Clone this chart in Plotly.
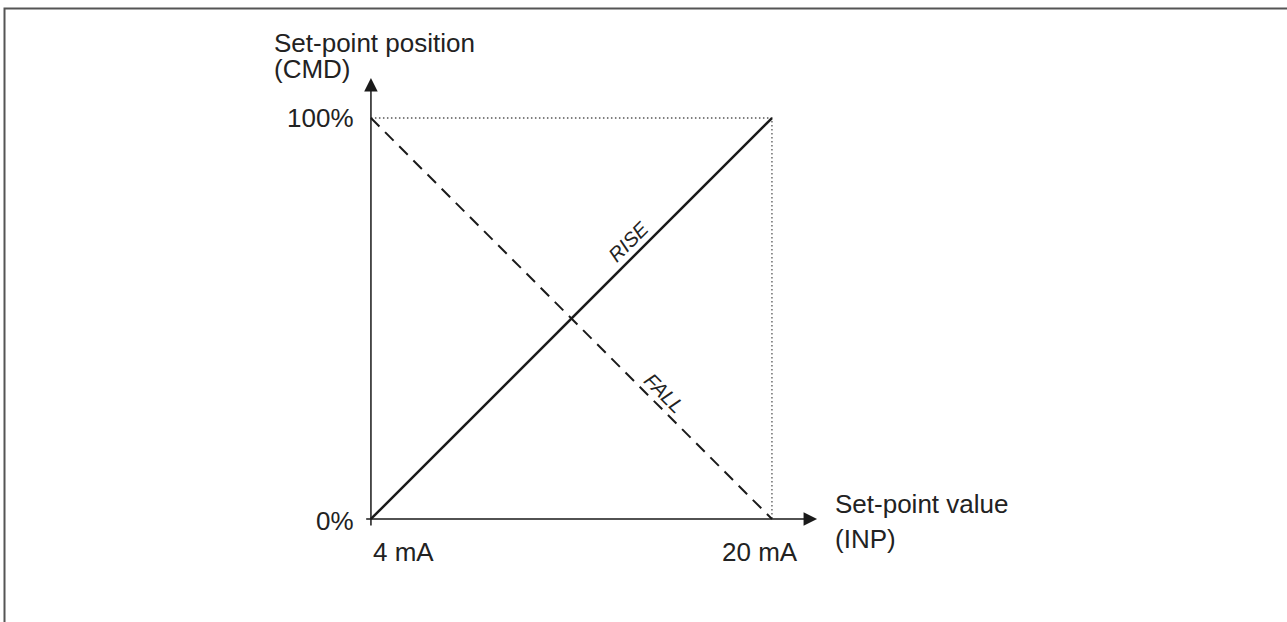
import plotly.graph_objects as go

# ── Data ──────────────────────────────────────────────────────────
inp_ma = [4, 20]            # set-point value (INP), mA
rise_pct = [0, 100]         # RISE characteristic, % of CMD
fall_pct = [100, 0]         # FALL characteristic, % of CMD
x_tick_vals = [4, 20]
x_tick_text = ["4 mA", "20 mA"]
y_tick_vals = [0, 100]
y_tick_text = ["0%", "100%"]

FONT = "Liberation Sans, Arial, Helvetica, sans-serif"
INK = "#222222"

fig = go.Figure()

# Dotted guides to the 20 mA / 100% corner
fig.add_trace(go.Scatter(
    x=[inp_ma[0], inp_ma[1], inp_ma[1]],
    y=[y_tick_vals[1], y_tick_vals[1], y_tick_vals[0]],
    mode="lines",
    line=dict(color="#555555", width=1.3, dash="1.5px,2.5px"),
    hoverinfo="skip", showlegend=False,
))

# RISE (solid) and FALL (dashed)
fig.add_trace(go.Scatter(
    x=inp_ma, y=rise_pct, mode="lines",
    line=dict(color="#1a1a1a", width=2.5),
    hoverinfo="skip", showlegend=False,
))
fig.add_trace(go.Scatter(
    x=inp_ma, y=fall_pct, mode="lines",
    line=dict(color="#1a1a1a", width=2, dash="12px,8px"),
    hoverinfo="skip", showlegend=False,
))

# ── Axes with arrowheads ──────────────────────────────────────────
axis_arrow = dict(
    text="", showarrow=True, arrowhead=2, arrowsize=1.8, arrowwidth=1.5,
    arrowcolor="#1a1a1a", xref="x", yref="y", axref="x", ayref="y",
)
fig.add_annotation(x=4, y=110, ax=4, ay=-2, **axis_arrow)
fig.add_annotation(x=21.8, y=0, ax=3.75, ay=0, **axis_arrow)

big = dict(family=FONT, size=26, color=INK)
small = dict(family=FONT, size=20, color=INK)

# tick labels
for v, t in zip(y_tick_vals, y_tick_text):
    fig.add_annotation(x=3.4, y=v - (0.5 if v == 0 else 0), text=t, showarrow=False,
                       xanchor="right", yanchor="middle", font=big)
fig.add_annotation(x=x_tick_vals[0], y=-8.2, text=x_tick_text[0], showarrow=False,
                   xanchor="left", yanchor="middle", font=big)
fig.add_annotation(x=19.52, y=-8.2, text=x_tick_text[1], showarrow=False,
                   xanchor="center", yanchor="middle", font=big)

# axis titles (one annotation per line for tight leading)
fig.add_annotation(x=0.05, y=118.6, text="Set-point position", showarrow=False,
                   xanchor="left", yanchor="middle", font=big)
fig.add_annotation(x=0.05, y=112.3, text="(CMD)", showarrow=False,
                   xanchor="left", yanchor="middle", font=big)
fig.add_annotation(x=22.44, y=3.7, text="Set-point value", showarrow=False,
                   xanchor="left", yanchor="middle", font=big)
fig.add_annotation(x=22.44, y=-5, text="(INP)", showarrow=False,
                   xanchor="left", yanchor="middle", font=big)

# curve labels
fig.add_annotation(x=14.26, y=69.1, text="<i>RISE</i>", showarrow=False, textangle=-45,
                   font=small)
fig.add_annotation(x=15.69, y=31.4, text="<i>FALL</i>", showarrow=False, textangle=45,
                   font=small)

# outer frame (right/bottom edges fall outside the picture)
fig.add_shape(type="rect", xref="paper", yref="paper",
              x0=0.0035, x1=1.01, y0=-0.01, y1=0.9863,
              line=dict(color="#555555", width=2))

fig.update_layout(
    width=1287, height=622,
    margin=dict(l=0, r=0, t=0, b=0),
    paper_bgcolor="white", plot_bgcolor="white",
    xaxis=dict(range=[-10.80, 40.55], visible=False, fixedrange=True),
    yaxis=dict(range=[-25.69, 129.43], visible=False, fixedrange=True),
    showlegend=False,
)

# drop the page's default body margin so the figure sits at the window origin
fig.write_html("out.html", config={"displayModeBar": False},
               post_script="document.body.style.margin='0px';")
